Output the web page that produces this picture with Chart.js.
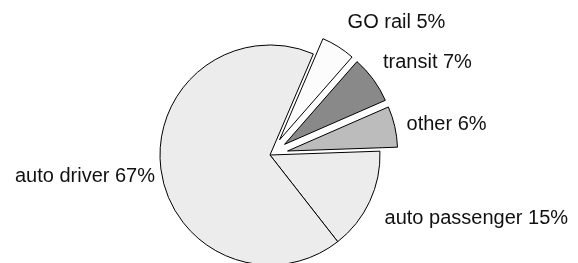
<!DOCTYPE html>
<html>
<head>
<meta charset="utf-8">
<script src="https://cdn.jsdelivr.net/npm/chart.js@4"></script>
<style>
  html, body { margin: 0; padding: 0; background: #fff; }
  #wrap { width: 578px; height: 263px; }
</style>
</head>
<body>
<div id="wrap"><canvas id="pie-chart"></canvas></div>
<script>
// data
const labels = ["auto passenger", "auto driver", "GO rail", "transit", "other"];
const shares = [15, 67, 5, 7, 6];
const colors = ["#ececec", "#ececec", "#fcfcfc", "#898989", "#bcbcbc"];
const explode = [0, 0, 18, 18, 18]; // px pulled out along the slice middle

// label nudges from the slice anchor (dx, dy) - excel style placement
const nudges = [[4, 17], [6, 11], [3, -9], [0, -4], [0, 6]];

// chart.js offset also grows the radius, so move the exploded slices by hand
const explodeSlices = {
  id: "explodeSlices",
  afterDatasetUpdate(chart, args) {
    const meta = chart.getDatasetMeta(args.index);
    meta.data.forEach((arc, i) => {
      if (!explode[i]) return;
      const mid = (arc.startAngle + arc.endAngle) / 2;
      arc.x += Math.cos(mid) * explode[i];
      arc.y += Math.sin(mid) * explode[i];
    });
  },
};

const sliceLabels = {
  id: "sliceLabels",
  afterDatasetsDraw(chart) {
    const ctx = chart.ctx;
    const meta = chart.getDatasetMeta(0);
    ctx.save();
    ctx.font = "20px 'Liberation Sans', Arial, sans-serif";
    ctx.fillStyle = "#111";
    ctx.textBaseline = "alphabetic";
    meta.data.forEach((arc, i) => {
      const mid = (arc.startAngle + arc.endAngle) / 2;
      const r = arc.outerRadius + 12;
      const x = arc.x + Math.cos(mid) * r + nudges[i][0];
      const y = arc.y + Math.sin(mid) * r + nudges[i][1];
      ctx.textAlign = Math.cos(mid) < 0 ? "right" : "left";
      ctx.fillText(labels[i] + " " + shares[i] + "%", x, y);
    });
    ctx.restore();
  },
};

var ctx = document.getElementById("pie-chart");
new Chart(ctx, {
  type: "pie",
  data: {
    labels: labels,
    datasets: [
      {
        data: shares,
        backgroundColor: colors,
        borderColor: "#000",
        borderWidth: 1,
        radius: 110,
        clip: false,
      },
    ],
  },
  options: {
    responsive: true,
    maintainAspectRatio: false,
    animation: false,
    events: [],
    rotation: 88,
    layout: {
      padding: { left: 0, right: 38, top: 47, bottom: 0 },
    },
    plugins: {
      legend: { display: false },
      tooltip: { enabled: false },
    },
  },
  plugins: [explodeSlices, sliceLabels],
});
</script>
</body>
</html>
